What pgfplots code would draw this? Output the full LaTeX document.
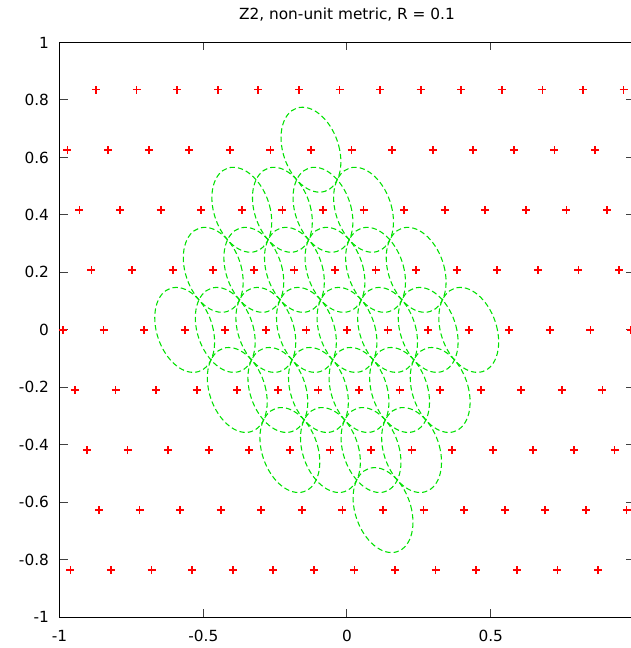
\documentclass[border=0pt]{standalone}
\usepackage{pgfplots}
\pgfplotsset{compat=1.18}
\usepackage{pgfplotstable}
\usepackage{fontspec}
\setmainfont{DejaVu Sans}
\definecolor{gpred}{RGB}{255,0,0}
\definecolor{gpgreen}{RGB}{0,225,0}
% lattice point marker
\pgfdeclareplotmark{redplus}{%
  \pgfsetstrokecolor{gpred}\pgfsetlinewidth{1.3pt}\pgfsetdash{}{0pt}%
  \pgfpathmoveto{\pgfqpoint{-3pt}{0pt}}\pgfpathlineto{\pgfqpoint{3pt}{0pt}}%
  \pgfpathmoveto{\pgfqpoint{0pt}{-3pt}}\pgfpathlineto{\pgfqpoint{0pt}{3pt}}%
  \pgfusepathqstroke}
% metric ball of radius R around a lattice point: conjugate half-axes a/sqrt2 and b/sqrt2 (in pt, 1 unit = 215.55pt)
\pgfdeclareplotmark{metricball}{%
  \pgfsetstrokecolor{gpgreen}\pgfsetlinewidth{0.8pt}\pgfsetdash{{4pt}{2.3pt}}{0pt}%
  \pgfpathellipse{\pgfpointorigin}{\pgfqpoint{21.52pt}{0pt}}{\pgfqpoint{-6.371pt}{31.855pt}}%
  \pgfusepathqstroke}

\pgfplotstableread{
x y
-0.8732 0.836
-0.7320 0.836
-0.5908 0.836
-0.4496 0.836
-0.3084 0.836
-0.1672 0.836
-0.0260 0.836
0.1152 0.836
0.2564 0.836
0.3976 0.836
0.5388 0.836
0.6800 0.836
0.8212 0.836
0.9624 0.836
-0.9726 0.627
-0.8314 0.627
-0.6902 0.627
-0.5490 0.627
-0.4078 0.627
-0.2666 0.627
-0.1254 0.627
0.0158 0.627
0.1570 0.627
0.2982 0.627
0.4394 0.627
0.5806 0.627
0.7218 0.627
0.8630 0.627
-0.9308 0.418
-0.7896 0.418
-0.6484 0.418
-0.5072 0.418
-0.3660 0.418
-0.2248 0.418
-0.0836 0.418
0.0576 0.418
0.1988 0.418
0.3400 0.418
0.4812 0.418
0.6224 0.418
0.7636 0.418
0.9048 0.418
-0.8890 0.209
-0.7478 0.209
-0.6066 0.209
-0.4654 0.209
-0.3242 0.209
-0.1830 0.209
-0.0418 0.209
0.0994 0.209
0.2406 0.209
0.3818 0.209
0.5230 0.209
0.6642 0.209
0.8054 0.209
0.9466 0.209
-0.9884 0
-0.8472 0
-0.7060 0
-0.5648 0
-0.4236 0
-0.2824 0
-0.1412 0
0 0
0.1412 0
0.2824 0
0.4236 0
0.5648 0
0.7060 0
0.8472 0
0.9884 0
-0.9466 -0.209
-0.8054 -0.209
-0.6642 -0.209
-0.5230 -0.209
-0.3818 -0.209
-0.2406 -0.209
-0.0994 -0.209
0.0418 -0.209
0.1830 -0.209
0.3242 -0.209
0.4654 -0.209
0.6066 -0.209
0.7478 -0.209
0.8890 -0.209
-0.9048 -0.418
-0.7636 -0.418
-0.6224 -0.418
-0.4812 -0.418
-0.3400 -0.418
-0.1988 -0.418
-0.0576 -0.418
0.0836 -0.418
0.2248 -0.418
0.3660 -0.418
0.5072 -0.418
0.6484 -0.418
0.7896 -0.418
0.9308 -0.418
-0.8630 -0.627
-0.7218 -0.627
-0.5806 -0.627
-0.4394 -0.627
-0.2982 -0.627
-0.1570 -0.627
-0.0158 -0.627
0.1254 -0.627
0.2666 -0.627
0.4078 -0.627
0.5490 -0.627
0.6902 -0.627
0.8314 -0.627
0.9726 -0.627
-0.9624 -0.836
-0.8212 -0.836
-0.6800 -0.836
-0.5388 -0.836
-0.3976 -0.836
-0.2564 -0.836
-0.1152 -0.836
0.0260 -0.836
0.1672 -0.836
0.3084 -0.836
0.4496 -0.836
0.5908 -0.836
0.7320 -0.836
0.8732 -0.836
}\lattice

\pgfplotstableread{
x y
-0.1254 0.627
-0.3660 0.418
-0.2248 0.418
-0.0836 0.418
0.0576 0.418
-0.4654 0.209
-0.3242 0.209
-0.1830 0.209
-0.0418 0.209
0.0994 0.209
0.2406 0.209
-0.5648 0
-0.4236 0
-0.2824 0
-0.1412 0
0 0
0.1412 0
0.2824 0
0.4236 0
-0.3818 -0.209
-0.2406 -0.209
-0.0994 -0.209
0.0418 -0.209
0.1830 -0.209
0.3242 -0.209
-0.1988 -0.418
-0.0576 -0.418
0.0836 -0.418
0.2248 -0.418
0.1254 -0.627
}\balls

\begin{document}
\begin{tikzpicture}
\begin{axis}[
  x=215.55pt, y=215.55pt,
  xmin=-1, xmax=1, ymin=-1, ymax=1,
  font=\fontsize{11.5pt}{13pt}\selectfont,
  title={Z2, non-unit metric, R = 0.1},
  title style={at={(0.5,1)}, anchor=center, yshift=14.6pt},
  xtick={-1,-0.5,0,0.5},
  xticklabels={-1,-0.5,0,0.5},
  ytick={-1,-0.8,-0.6,-0.4,-0.2,0,0.2,0.4,0.6,0.8,1},
  yticklabels={-1,-0.8,-0.6,-0.4,-0.2,0,0.2,0.4,0.6,0.8,1},
  tick align=inside,
  major tick length=6pt,
  every tick/.style={black!75, line width=0.75pt},
  axis line style={black, line width=1.1pt},
  yticklabel style={xshift=-4.5pt},
  xticklabel style={yshift=-6pt},
  clip marker paths=false,
]
\addplot[only marks, mark=redplus, gpred] table[x=x, y=y] {\lattice};
\addplot[only marks, mark=metricball, gpgreen] table[x=x, y=y] {\balls};
\coordinate (bbsw) at (rel axis cs:0,0);
\coordinate (bbne) at (rel axis cs:1,1);
\end{axis}
\pgfresetboundingbox
\path[use as bounding box] ([shift={(-44.7pt,-23.03pt)}]bbsw) rectangle ([shift={(-3.2pt,31.88pt)}]bbne);
\end{tikzpicture}
\end{document}
